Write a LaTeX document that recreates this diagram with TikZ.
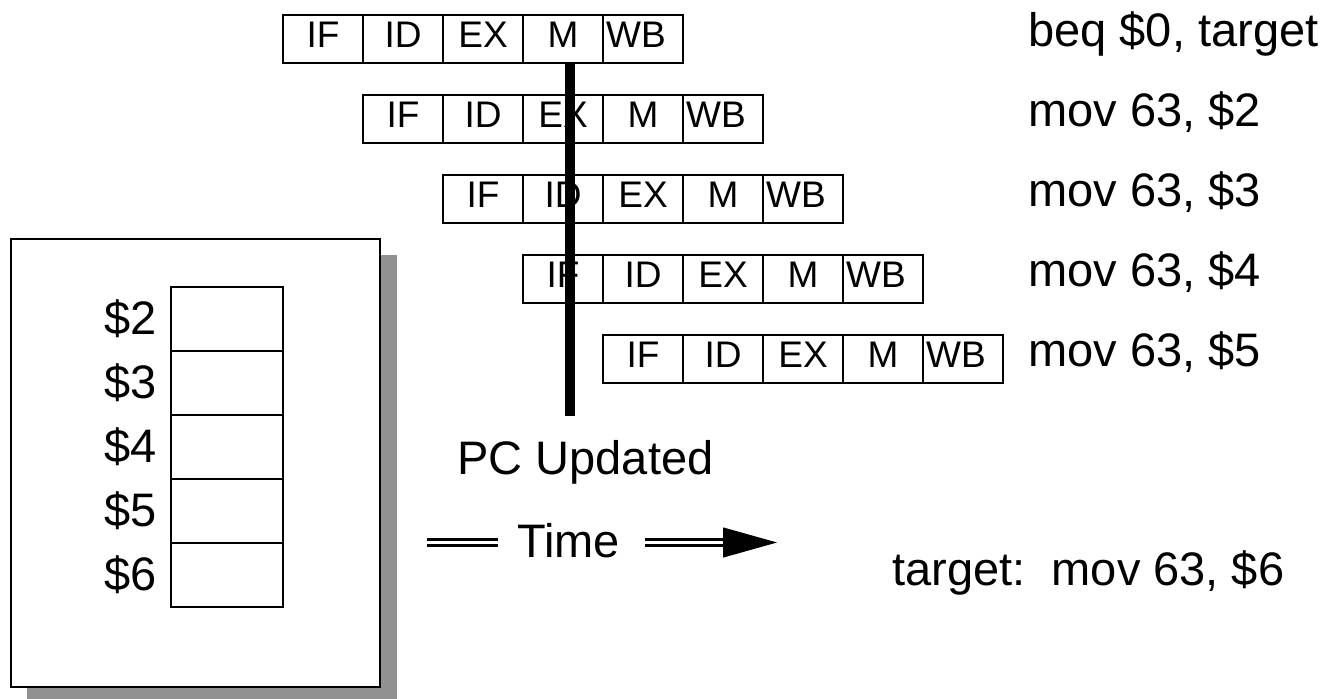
\documentclass[tikz,border=0pt]{standalone}
\usepackage{fontspec}
\setmainfont{Liberation Sans}
\usetikzlibrary{arrows.meta,positioning}
\definecolor{shadowgray}{gray}{0.57}

\tikzset{
	stage/.style={draw, line width=1pt, outer sep=0pt, inner sep=0pt,
		minimum width=40pt, minimum height=24pt,
		text height=13pt, text depth=4pt, font=\fontsize{18.5}{22}\selectfont},
	regcell/.style={draw, line width=1pt, outer sep=0pt, inner sep=0pt,
		minimum width=56pt, minimum height=32pt},
	bigtext/.style={inner sep=0pt, font=\fontsize{23.5}{28}\selectfont},
	timeline/.style={double, double distance=1.5pt, line width=1.5pt},
	pcbar/.style={line width=5pt}
}

\begin{document}
\begin{tikzpicture}[x=0.5pt, y=-0.5pt]
	\useasboundingbox (0,0) rectangle (1336,699);

	% pipeline, one row per instruction
	\foreach \r/\instr in {0/{beq \$0, target}, 1/{mov 63, \$2}, 2/{mov 63, \$3},
		3/{mov 63, \$4}, 4/{mov 63, \$5}} {
		\node[stage] (s\r-1) at ({323+80*\r},{39+80*\r}) {IF};
		\node[stage, right=0pt of s\r-1] (s\r-2) {ID};
		\node[stage, right=0pt of s\r-2] (s\r-3) {EX};
		\node[stage, right=0pt of s\r-3] (s\r-4) {M};
		\node[stage, right=0pt of s\r-4] (s\r-5) {\hspace*{-7pt}WB};
		\node[bigtext, anchor=base west] (i\r) at (1028,{47+80*\r}) {\instr};
	}

	% register file
	\fill[shadowgray] (27,255) rectangle (397,703);
	\draw[line width=1.3pt, fill=white] (11,239) rectangle (380,687);
	\node[regcell] (reg2) at (227,319) {};
	\foreach \n [count=\p from 2] in {3,4,5,6}
		\node[regcell, below=0pt of reg\p] (reg\n) {};
	\foreach \n in {2,...,6}
		\node[bigtext, left=7pt of reg\n] (lab\n) {\$\n};

	% PC update
	\coordinate (pctop) at (570,63);
	\coordinate (pcbot) at (570,416);
	\draw[pcbar] (pctop) -- (pcbot);
	\node[bigtext, anchor=base west] (pc) at (457,474) {PC Updated};

	% time axis
	\node[bigtext, anchor=base west] (time) at (517,557) {Time};
	\coordinate (ta) at (427,542.5);
	\coordinate (tb) at (498,542.5);
	\coordinate (tc) at (645,542.5);
	\coordinate (td) at (723,542.5);
	\coordinate (te) at (777,542.5);
	\draw[timeline] (ta) -- (tb);
	\draw[timeline] (tc) -- (td);
	\draw[-{Triangle[length=27pt, width=15pt]}, line width=0.5pt] (td) -- (te);

	\node[bigtext, anchor=base west] (tgt) at (892,585) {target:\ \ mov 63, \$6};
\end{tikzpicture}
\end{document}
